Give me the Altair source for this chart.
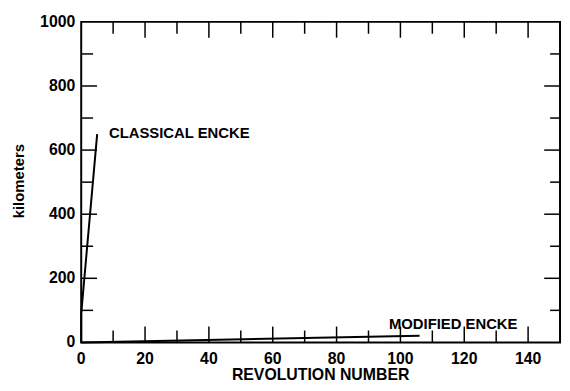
import altair as alt
import pandas as pd

# ---- data ----
classical_rev = [0.0, 0.0, 5.0]
classical_km = [0, 90, 650]
modified_rev = [0.0, 106.0]
modified_km = [0, 21]

x_labels = [0, 20, 40, 60, 80, 100, 120, 140]
y_labels = [0, 200, 400, 600, 800, 1000]
x_major_ticks = [20, 40, 60, 80, 100, 120, 140]
x_minor_ticks = [10, 30, 50, 70, 90, 110, 130]
y_major_ticks = [200, 400, 600, 800]
y_minor_ticks = [100, 300, 500, 700, 900]

label_text = ["CLASSICAL ENCKE", "MODIFIED ENCKE"]
label_rev = [8.7, 96.4]
label_km = [654, 58]

x_title = "REVOLUTION NUMBER"
y_title = "kilometers"

FONT = "Liberation Sans"
W, H = 484, 324
MAJOR, MINOR, RMINOR = 16, 12, 10

xscale = alt.Scale(domain=[0, 150], nice=False, zero=False)
yscale = alt.Scale(domain=[0, 1000], nice=False)


def XF(field="rev"):
    return alt.X(f"{field}:Q", scale=xscale, axis=None)


def YF(field="km"):
    return alt.Y(f"{field}:Q", scale=yscale, axis=None)


lines_df = pd.DataFrame({
    "rev": classical_rev + modified_rev,
    "km": classical_km + modified_km,
    "series": ["classical"] * len(classical_rev) + ["modified"] * len(modified_rev),
    "order": list(range(len(classical_rev))) + list(range(len(modified_rev))),
})

lines = alt.Chart(lines_df).mark_line(color="black", strokeWidth=2).encode(
    x=XF(), y=YF(), detail="series:N", order="order:Q",
)


def xticks(vals, length, top):
    df = pd.DataFrame({"rev": vals})
    if top:
        yv, y2v = alt.value(0), alt.value(length)
    else:
        yv, y2v = alt.value(H), alt.value(H - length)
    return alt.Chart(df).mark_rule(color="black", strokeWidth=1.5).encode(
        x=XF(), y=yv, y2=y2v)


def yticks(vals, length, right):
    df = pd.DataFrame({"km": vals})
    if right:
        xv, x2v = alt.value(W), alt.value(W - length)
    else:
        xv, x2v = alt.value(0), alt.value(length)
    return alt.Chart(df).mark_rule(color="black", strokeWidth=1.5).encode(
        y=YF(), x=xv, x2=x2v)


# tick labels placed through the same scales
xlab = alt.Chart(pd.DataFrame({"rev": x_labels, "t": [str(v) for v in x_labels]})).mark_text(
    align="center", baseline="top", font=FONT, fontSize=16, fontWeight="bold", color="black"
).encode(x=XF(), y=alt.value(H + 9), text="t:N")

ylab = alt.Chart(pd.DataFrame({"km": y_labels, "t": [str(v) for v in y_labels]})).mark_text(
    align="right", baseline="middle", font=FONT, fontSize=16, fontWeight="bold", color="black"
).encode(y=YF(), x=alt.value(-6), text="t:N")

# axis titles
xtitle = alt.Chart(pd.DataFrame({"t": [x_title]})).mark_text(
    align="center", baseline="alphabetic", font=FONT, fontSize=16, fontWeight="bold", color="black"
).encode(x=alt.value(W / 2), y=alt.value(H + 38), text="t:N")

ytitle = alt.Chart(pd.DataFrame({"t": [y_title]})).mark_text(
    align="center", baseline="middle", angle=270, font=FONT, fontSize=15, fontWeight="bold",
    color="black"
).encode(x=alt.value(-63), y=alt.value(161), text="t:N")

labels_df = pd.DataFrame({"text": label_text, "rev": label_rev, "km": label_km})
labels = alt.Chart(labels_df).mark_text(
    align="left", baseline="middle", font=FONT, fontSize=15, fontWeight="bold", color="black"
).encode(x=XF(), y=YF(), text="text:N")

chart = alt.layer(
    lines,
    xticks(x_major_ticks, MAJOR, False), xticks(x_minor_ticks, MINOR, False),
    xticks(x_major_ticks, MAJOR, True), xticks(x_minor_ticks, MINOR, True),
    yticks(y_major_ticks, MAJOR, False), yticks(y_minor_ticks, MINOR, False),
    yticks(y_major_ticks, MAJOR, True), yticks(y_minor_ticks, RMINOR, True),
    xlab, ylab, xtitle, ytitle,
    labels,
).properties(
    width=W, height=H,
    background="white",
    autosize=alt.AutoSizeParams(type="none"),
    padding={"left": 74, "top": 12, "right": 2, "bottom": 39},
).configure_view(
    stroke="black", strokeWidth=2
)

chart.save("out.html", embed_options={"renderer": "svg", "actions": False})
